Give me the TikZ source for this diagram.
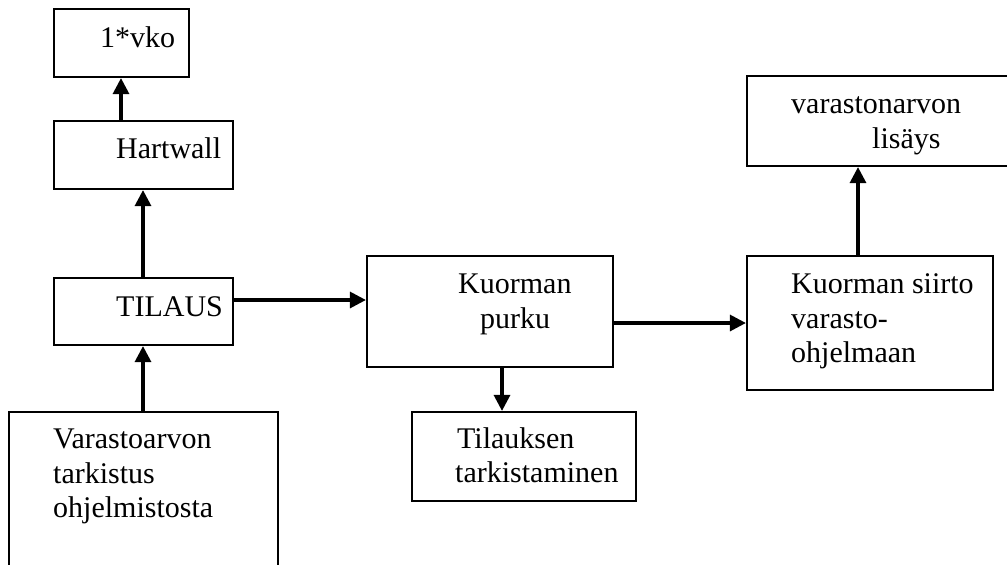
\documentclass[tikz,border=0pt]{standalone}
\usepackage{fontspec}
\setmainfont{Liberation Serif}
\usetikzlibrary{arrows.meta}
\begin{document}
\begin{tikzpicture}[x=1pt,y=-1pt,
  box/.style={draw,line width=2.2pt,inner sep=0pt},
  lbl/.style={anchor=base west,inner sep=0pt,font=\fontsize{30}{35}\selectfont},
  arr/.style={line width=3.2pt,-{Triangle[length=16pt,width=16pt]}}]
\useasboundingbox (0,0) rectangle (1007,565);
% boxes
\node[box,minimum width=135pt,minimum height=68pt] (vko) at (121.5,43) {};
\node[box,minimum width=179pt,minimum height=68pt] (hart) at (143.5,155) {};
\node[box,minimum width=179pt,minimum height=67pt] (tilaus) at (143.5,311.5) {};
\node[box,minimum width=269pt,minimum height=170pt] (vara) at (143.5,497) {};
\node[box,minimum width=246pt,minimum height=111pt] (purku) at (490,311.5) {};
\node[box,minimum width=224pt,minimum height=89pt] (tark) at (524,456.5) {};
\node[box,minimum width=246pt,minimum height=134pt] (siirto) at (870,323) {};
\node[box,minimum width=268pt,minimum height=90pt] (lisays) at (881,121) {};
% texts
\node[lbl] (t1) at (100,47) {1*vko};
\node[lbl] (t2) at (116,158) {Hartwall};
\node[lbl] (t3) at (116,316) {TILAUS};
\node[lbl] (t4a) at (53,448) {Varastoarvon};
\node[lbl] (t4b) at (53,483) {tarkistus};
\node[lbl] (t4c) at (53,517) {ohjelmistosta};
\node[lbl] (t5a) at (458,293) {Kuorman};
\node[lbl] (t5b) at (480,328) {purku};
\node[lbl] (t6a) at (457,448) {Tilauksen};
\node[lbl] (t6b) at (455,482) {tarkistaminen};
\node[lbl] (t7a) at (791,293) {Kuorman siirto};
\node[lbl] (t7b) at (791,328) {varasto-};
\node[lbl] (t7c) at (791,362) {ohjelmaan};
\node[lbl] (t8a) at (791,113) {varastonarvon};
\node[lbl] (t8b) at (872,148) {lisäys};
% connector positions
\coordinate (xa) at (121,0);
\coordinate (xb) at (143,0);
\coordinate (xc) at (502,0);
\coordinate (xd) at (858,0);
\coordinate (ya) at (0,300);
\coordinate (yb) at (0,323);
% connectors
\draw[arr] (hart.north -| xa) -- (vko.south -| xa);
\draw[arr] (tilaus.north -| xb) -- (hart.south -| xb);
\draw[arr] (vara.north -| xb) -- (tilaus.south -| xb);
\draw[arr] (tilaus.east |- ya) -- (purku.west |- ya);
\draw[arr] (purku.south -| xc) -- (tark.north -| xc);
\draw[arr] (purku.east |- yb) -- (siirto.west |- yb);
\draw[arr] (siirto.north -| xd) -- (lisays.south -| xd);
\end{tikzpicture}
\end{document}
